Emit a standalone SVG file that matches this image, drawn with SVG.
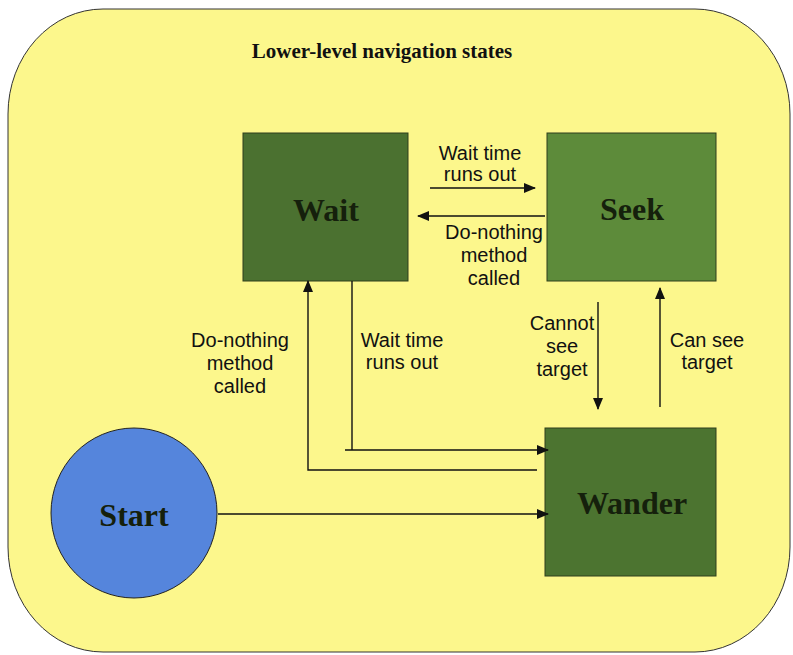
<svg xmlns="http://www.w3.org/2000/svg" width="793" height="655" viewBox="0 0 793 655">
<style>
.box{stroke:#2e3f1c;stroke-width:1}
.nodeText{font-family:"Liberation Serif",serif;font-weight:bold;font-size:32px;fill:#15200c;text-anchor:middle}
.lbl{font-family:"Liberation Sans",Arial,sans-serif;font-size:20px;fill:#111;text-anchor:middle}
.conn{stroke:#111;stroke-width:1.4;fill:none}
</style>
<defs>
<marker id="ah" markerWidth="12" markerHeight="10" refX="11" refY="5" orient="auto" markerUnits="userSpaceOnUse">
<path d="M0,0 L12,5 L0,10 Z" fill="#111"/>
</marker>
</defs>
<rect x="8" y="9" width="782" height="643" rx="95" ry="105" fill="#fcf78c" stroke="#333" stroke-width="1"/>
<text x="382" y="58" style="font-family:'Liberation Serif',serif;font-weight:bold;font-size:21px;fill:#111" text-anchor="middle">Lower-level navigation states</text>
<g id="wait"><rect class="box" x="243" y="133" width="165" height="148" fill="#4b7130"/><text class="nodeText" x="326" y="221">Wait</text></g>
<g id="seek"><rect class="box" x="547" y="133" width="169" height="148" fill="#5d8b3a"/><text class="nodeText" x="632" y="220">Seek</text></g>
<g id="wander"><rect class="box" x="545" y="428" width="171" height="148" fill="#4c7430"/><text class="nodeText" x="632" y="514">Wander</text></g>
<g id="start"><ellipse cx="134" cy="513" rx="83" ry="85" fill="#5585dc" stroke="#222" stroke-width="1"/><text class="nodeText" x="134" y="526">Start</text></g>
<g id="connectors">
<line class="conn" x1="430" y1="188" x2="535" y2="188" marker-end="url(#ah)"/>
<line class="conn" x1="545" y1="216" x2="418" y2="216" marker-end="url(#ah)"/>
<line class="conn" x1="598" y1="302" x2="598" y2="409" marker-end="url(#ah)"/>
<line class="conn" x1="660" y1="407" x2="660" y2="288" marker-end="url(#ah)"/>
<polyline class="conn" points="352,281 352,450"/>
<line class="conn" x1="345" y1="450" x2="548" y2="450" marker-end="url(#ah)"/>
<polyline class="conn" points="537,470 308,470 308,281" marker-end="url(#ah)"/>
<line class="conn" x1="218" y1="514" x2="548" y2="514" marker-end="url(#ah)"/>
</g>
<g id="labels">
<text class="lbl" x="480" y="160">Wait time</text>
<text class="lbl" x="480" y="181">runs out</text>
<text class="lbl" x="494" y="239">Do-nothing</text>
<text class="lbl" x="494" y="262">method</text>
<text class="lbl" x="494" y="285">called</text>
<text class="lbl" x="562" y="330">Cannot</text>
<text class="lbl" x="562" y="353">see</text>
<text class="lbl" x="562" y="376">target</text>
<text class="lbl" x="707" y="347">Can see</text>
<text class="lbl" x="707" y="369">target</text>
<text class="lbl" x="402" y="347">Wait time</text>
<text class="lbl" x="402" y="369">runs out</text>
<text class="lbl" x="240" y="347">Do-nothing</text>
<text class="lbl" x="240" y="370">method</text>
<text class="lbl" x="240" y="393">called</text>
</g>
</svg>
